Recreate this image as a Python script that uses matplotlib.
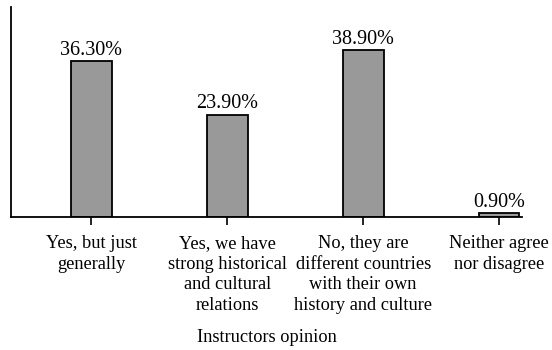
import matplotlib.pyplot as plt

categories = ["Yes, but just\ngenerally",
              "Yes, we have\nstrong historical\nand cultural\nrelations",
              "No, they are\ndifferent countries\nwith their own\nhistory and culture",
              "Neither agree\nnor disagree"]
percent = [36.3, 23.9, 38.9, 0.9]

plt.rcParams['font.family'] = ['Liberation Serif', 'DejaVu Serif']

fig = plt.figure(figsize=(5.52, 3.5), dpi=100)
ax = fig.add_axes([0.02, 0.38, 0.926, 0.6])

x = range(len(categories))
bars = ax.bar(x, percent, width=0.3, color='#999999', edgecolor='black', linewidth=1.3)

for b, v in zip(bars, percent):
    ax.text(b.get_x() + b.get_width() / 2, v + 0.3, f"{v:.2f}%",
            ha='center', va='bottom', fontsize=14.5)

ax.set_xlim(-0.59, 3.17)
ax.set_ylim(0, 49)
ax.set_xticks(list(x))
ax.set_xticklabels(categories, fontsize=13.2, linespacing=1.28)
ax.tick_params(axis='x', length=6, width=1.2, pad=7)
ax.set_yticks([])
ax.spines['top'].set_visible(False)
ax.spines['right'].set_visible(False)
ax.spines['left'].set_linewidth(1.3)
ax.spines['bottom'].set_linewidth(1.3)
ax.set_xlabel("Instructors opinion", fontsize=13.2, labelpad=11)

fig.savefig('out.png', dpi=100)
